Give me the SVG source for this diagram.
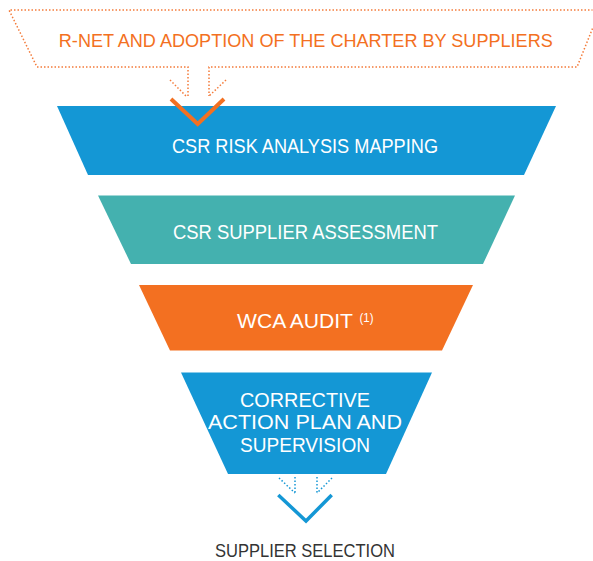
<svg xmlns="http://www.w3.org/2000/svg" width="593" height="561" viewBox="0 0 593 561">
  <style>
    .lbl { font-family: "Liberation Sans", Arial, sans-serif; font-size: 20px; fill: #ffffff; text-anchor: middle; }
    .dotO { fill: none; stroke: #F47B3A; stroke-width: 1.5; stroke-dasharray: 1.5 2; }
    .dotB { fill: none; stroke: #1497D5; stroke-width: 1.5; stroke-dasharray: 1.5 2; }
  </style>
  <rect width="593" height="561" fill="#ffffff"/>

  <g id="banner">
    <path class="dotO" d="M188,96 V67 H37 L9,10 H592.5 M592.5,28.5 L577,67 H209 V96"/>
    <text x="305.8" y="47" textLength="494" lengthAdjust="spacingAndGlyphs" style="font-family:'Liberation Sans', Arial, sans-serif; font-size:19px; fill:#F37021; text-anchor:middle;">R-NET AND ADOPTION OF THE CHARTER BY SUPPLIERS</text>
  </g>

  <g id="risk-mapping">
    <polygon points="57,106 556,106 524,175 88,175" fill="#1497D5"/>
    <text class="lbl" x="305" y="153" textLength="266" lengthAdjust="spacingAndGlyphs">CSR RISK ANALYSIS MAPPING</text>
  </g>

  <g id="supplier-assessment">
    <polygon points="98,195.5 515,195.5 483,264 131,264" fill="#44B1AF"/>
    <text class="lbl" x="305.5" y="239" textLength="265" lengthAdjust="spacingAndGlyphs">CSR SUPPLIER ASSESSMENT</text>
  </g>

  <g id="wca-audit">
    <polygon points="139,285 473,285 442,350.5 170,350.5" fill="#F37021"/>
    <text class="lbl" x="295" y="328" textLength="116" lengthAdjust="spacingAndGlyphs">WCA AUDIT</text>
    <text x="366.5" y="322" textLength="14" lengthAdjust="spacingAndGlyphs" style="font-family:'Liberation Sans', Arial, sans-serif; font-size:12px; fill:#ffffff; text-anchor:middle;">(1)</text>
  </g>

  <g id="corrective-action">
    <polygon points="181,372.5 432,372.5 386,474 228,474" fill="#1497D5"/>
    <text class="lbl" x="305" y="407.3" textLength="130" lengthAdjust="spacingAndGlyphs">CORRECTIVE</text>
    <text class="lbl" x="305" y="429.3" textLength="194" lengthAdjust="spacingAndGlyphs">ACTION PLAN AND</text>
    <text class="lbl" x="305" y="451.7" textLength="130" lengthAdjust="spacingAndGlyphs">SUPERVISION</text>
  </g>

  <g id="supplier-selection">
    <text x="305" y="557.3" textLength="180" lengthAdjust="spacingAndGlyphs" style="font-family:'Liberation Sans', Arial, sans-serif; font-size:18px; fill:#333333; text-anchor:middle;">SUPPLIER SELECTION</text>
  </g>

  <g id="connectors">
    <path class="dotO" d="M170,80 L187,97"/>
    <path class="dotO" d="M226,80 L209,96"/>
    <polyline points="171,99 197.7,124 224,99" fill="none" stroke="#F37021" stroke-width="4"/>
    <path class="dotB" d="M295,477 V493"/>
    <path class="dotB" d="M317,477 V493"/>
    <path class="dotB" d="M279,478 L295,493"/>
    <path class="dotB" d="M332,478 L317,493"/>
    <polyline points="278.3,495 306,521 331.7,495" fill="none" stroke="#1497D5" stroke-width="3.5"/>
  </g>
</svg>
